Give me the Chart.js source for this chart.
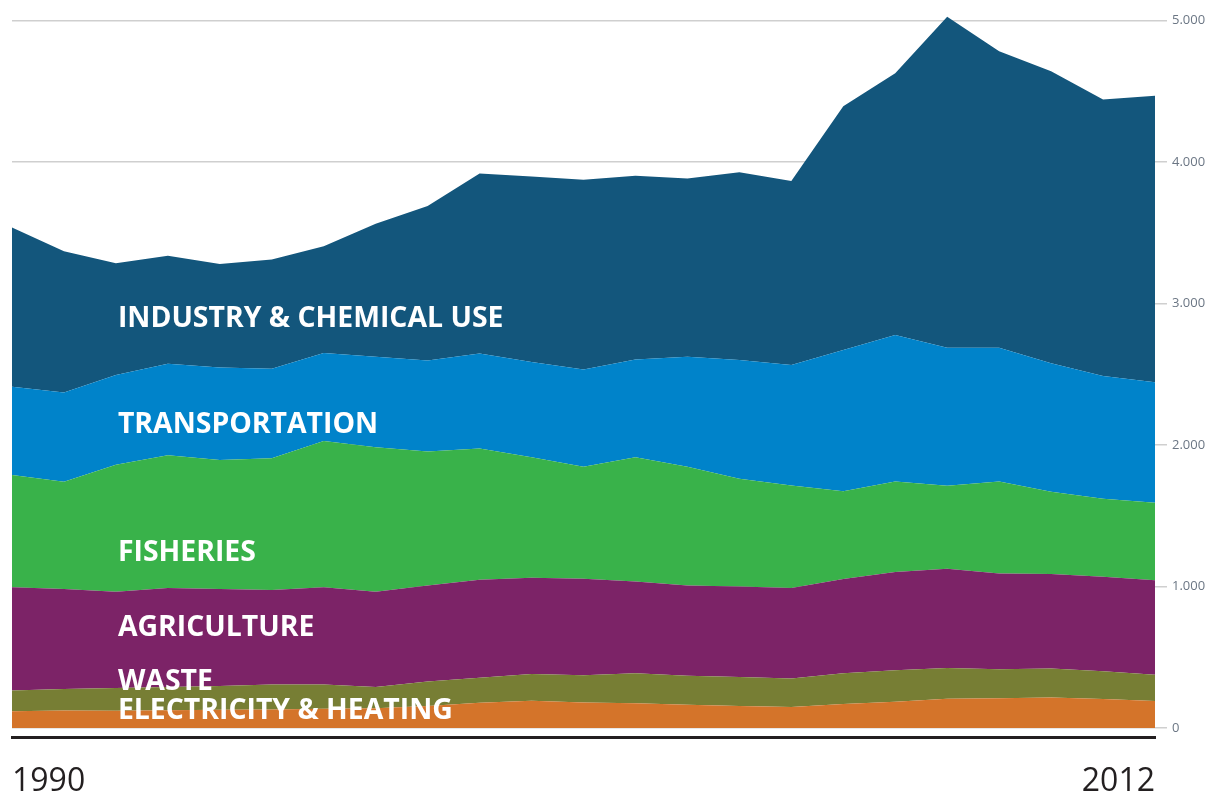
<!DOCTYPE html>
<html>
<head>
<meta charset="utf-8">
<script src="https://cdn.jsdelivr.net/npm/chart.js@4"></script>
<style>
  html, body { margin: 0; padding: 0; background: #ffffff; }
  #wrap { width: 1215px; height: 793px; position: relative; }
</style>
</head>
<body>
<div id="wrap"><canvas id="c"></canvas></div>
<script>
const years = ['1990','1991','1992','1993','1994','1995','1996','1997','1998','1999','2000','2001','2002','2003','2004','2005','2006','2007','2008','2009','2010','2011','2012'];

const electricityHeating = [118,124,122,125,128,130,135,140,155,178,192,180,174,164,155,148,169,185,206,210,215,205,190];
const waste              = [147,151,160,164,169,177,172,149,173,177,190,192,213,205,205,201,218,222,218,205,205,195,185];
const agriculture        = [729,706,680,700,684,668,687,673,679,692,679,683,647,638,639,640,665,694,700,676,668,668,669];
const fisheries          = [793,758,897,937,913,930,1033,1022,946,927,852,791,879,839,762,724,621,641,588,651,580,551,548];
const transportation     = [623,631,634,647,652,633,623,639,644,671,673,686,691,777,838,851,998,1035,975,945,909,868,851];
const industryChemical   = [1126,999,791,764,732,772,753,940,1091,1272,1310,1342,1297,1259,1328,1300,1722,1848,2338,2094,2063,1953,2024];

const seriesNames  = ['ELECTRICITY & HEATING','WASTE','AGRICULTURE','FISHERIES','TRANSPORTATION','INDUSTRY & CHEMICAL USE'];
const seriesColors = ['#d4742a','#777e34','#7c2367','#39b24a','#0083ca','#13567c'];
const seriesData   = [electricityHeating, waste, agriculture, fisheries, transportation, industryChemical];

// value (y) at which each series name's text baseline sits
const labelBaselineValues = [64, 268, 650, 1179, 2083, 2832];
const labelYearIndex = 2;

const yTickValues = [0, 1000, 2000, 3000, 4000, 5000];

const fmt = v => String(v).replace(/\B(?=(\d{3})+(?!\d))/g, '.');

const seriesLabelPlugin = {
  id: 'seriesLabels',
  afterDatasetsDraw(chart) {
    const ctx = chart.ctx;
    const xs = chart.scales.x, ys = chart.scales.y;
    ctx.save();
    ctx.fillStyle = '#ffffff';
    ctx.font = 'bold 28.4px "Open Sans"';
    ctx.textBaseline = 'alphabetic';
    ctx.textAlign = 'left';
    seriesNames.forEach((name, i) => {
      const x = xs.getPixelForValue(labelYearIndex) + 2;
      const y = ys.getPixelForValue(labelBaselineValues[i]);
      ctx.fillText(name, x, y);
    });
    ctx.restore();
  }
};

new Chart(document.getElementById('c'), {
  type: 'line',
  data: {
    labels: years,
    datasets: seriesData.map((d, i) => ({
      label: seriesNames[i],
      data: d,
      backgroundColor: seriesColors[i],
      borderColor: seriesColors[i],
      borderWidth: 0,
      pointRadius: 0,
      tension: 0,
      fill: i === 0 ? 'origin' : '-1'
    }))
  },
  options: {
    responsive: true,
    maintainAspectRatio: false,
    animation: false,
    layout: { padding: { left: 12, right: 0, top: 0, bottom: 0 } },
    plugins: { legend: { display: false }, tooltip: { enabled: false } },
    scales: {
      x: {
        offset: false,
        grid: { display: false, drawTicks: true, tickLength: 26 },
        border: { display: true, color: '#231f20', width: 3 },
        ticks: {
          autoSkip: false,
          maxRotation: 0,
          align: 'inner',
          padding: 0,
          color: '#231f20',
          font: { family: '"Open Sans"', size: 32 },
          callback: (v, i) => (i === 0 || i === years.length - 1) ? years[i] : ''
        },
        afterFit: s => { s.height = 56; }
      },
      y: {
        position: 'right',
        stacked: true,
        min: -64,
        max: 5053,
        afterBuildTicks: s => { s.ticks = yTickValues.map(v => ({ value: v })); },
        grid: { color: '#cfcfcf', lineWidth: 1.5, tickLength: 12, drawTicks: true },
        border: { display: false },
        ticks: {
          padding: 5,
          color: '#6b7684',
          font: { family: '"Open Sans"', size: 13 },
          callback: v => fmt(v)
        },
        afterFit: s => { s.width = 60; }
      }
    }
  },
  plugins: [seriesLabelPlugin]
});
</script>
</body>
</html>
